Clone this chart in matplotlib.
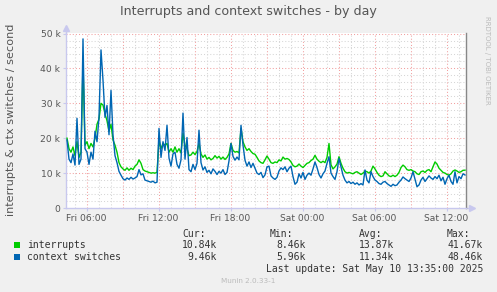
import matplotlib
matplotlib.use("Agg")
import matplotlib.pyplot as plt
import numpy as np

# ---------------- data (values in thousands per second) ----------------
start_hour = 4.375          # Fri 04:22:30 (hours since Fri 00:00)
step_hours = 1.0 / 6.0      # 10-minute samples

interrupts = [
    20.0, 17.0, 16.0, 17.5, 15.0, 19.0, 14.5, 16.0, 41.67, 18.0,
    19.0, 17.0, 18.5, 17.5, 20.0, 24.0, 25.5, 30.0, 29.5, 27.0,
    25.0, 22.0, 24.0, 19.5, 18.0, 16.0, 13.0, 11.8, 11.2, 10.8,
    11.5, 10.8, 11.4, 11.0, 12.0, 12.5, 13.8, 12.8, 11.0, 10.6,
    10.4, 10.2, 10.0, 10.1, 10.0, 10.2, 19.4, 17.0, 18.5, 18.0,
    18.5, 16.0, 17.0, 16.0, 17.5, 16.0, 17.0, 15.8, 21.4, 18.0,
    17.0, 15.0, 15.2, 16.0, 15.3, 16.2, 18.5, 15.5, 14.5, 15.2,
    14.0, 14.5, 13.8, 14.2, 15.0, 14.3, 14.8, 14.0, 14.6, 13.9,
    14.5, 15.5, 18.5, 16.5, 16.0, 16.2, 15.8, 22.8, 19.0, 17.5,
    16.5, 17.0, 16.2, 15.6, 15.4, 14.5, 13.5, 13.0, 12.8, 13.8,
    14.9, 14.0, 13.0, 12.8, 13.2, 13.0, 13.8, 13.5, 14.6, 14.0,
    14.2, 13.9, 13.2, 12.2, 11.8, 12.0, 12.6, 12.0, 11.6, 12.2,
    12.8, 13.0, 13.6, 14.0, 15.1, 14.0, 13.4, 13.0, 13.4, 13.0,
    14.5, 18.5, 12.4, 11.2, 11.8, 12.6, 14.7, 12.8, 11.4, 10.4,
    10.0, 10.2, 10.0, 9.8, 10.2, 10.4, 10.0, 9.6, 10.0, 10.6,
    10.4, 10.0, 10.6, 12.0, 11.2, 10.2, 9.4, 9.0, 9.2, 10.4,
    9.8, 9.2, 9.0, 9.4, 9.0, 9.4, 10.2, 11.6, 12.3, 11.8,
    11.0, 10.8, 11.0, 10.6, 10.4, 9.8, 9.6, 10.4, 10.6, 10.2,
    10.8, 11.0, 10.4, 11.8, 13.2, 12.6, 11.4, 10.8, 10.2, 10.0,
    9.6, 9.4, 9.8, 10.6, 10.9, 10.6, 10.2, 10.4, 10.8, 10.84,
]

context_switches = [
    19.5, 14.0, 13.0, 15.5, 12.3, 25.7, 12.5, 14.0, 48.46, 17.0,
    16.0, 12.5, 16.0, 14.0, 22.0, 19.0, 26.0, 45.3, 36.6, 26.0,
    29.4, 21.0, 33.7, 20.9, 15.0, 13.0, 10.5, 9.4, 8.4, 8.0,
    8.6, 8.2, 8.8, 8.3, 8.6, 9.0, 11.0, 9.5, 9.8, 8.0,
    7.8, 7.6, 7.4, 7.7, 7.2, 7.4, 22.8, 14.5, 19.0, 16.5,
    23.7, 14.3, 12.0, 15.5, 16.0, 12.5, 11.4, 13.8, 27.2, 14.0,
    20.2, 11.0, 10.4, 12.5, 11.0, 12.8, 22.3, 13.0, 10.9, 11.8,
    10.2, 10.8, 9.8, 11.2, 10.5, 9.6, 10.5, 10.0, 11.0, 9.6,
    10.2, 13.5, 18.5, 14.8, 13.7, 14.6, 13.8, 23.7, 18.0, 13.7,
    12.0, 13.2, 11.6, 12.8, 11.4, 10.0, 9.6, 10.2, 8.7, 9.5,
    11.8, 12.0, 9.2, 8.6, 8.2, 8.8, 10.6, 11.5, 11.0, 11.8,
    10.4, 11.4, 12.0, 9.0, 6.8, 7.4, 9.8, 8.6, 10.2, 8.2,
    9.4, 10.0, 9.4, 11.2, 13.2, 11.6, 9.6, 8.6, 9.8, 10.6,
    12.8, 14.7, 10.0, 9.0, 8.2, 10.4, 14.2, 11.8, 9.4, 8.0,
    7.2, 7.6, 7.0, 7.4, 6.8, 7.2, 6.6, 7.0, 6.6, 10.9,
    8.0, 7.2, 10.4, 9.0, 8.0, 7.6, 7.0, 6.8, 7.4, 7.6,
    7.0, 6.6, 6.2, 6.8, 6.4, 6.6, 7.4, 8.0, 8.9, 8.4,
    8.0, 7.6, 8.6, 10.4, 8.2, 6.1, 6.6, 8.0, 8.8, 7.6,
    8.4, 9.2, 8.6, 8.2, 9.0, 8.4, 9.4, 7.8, 8.8, 6.8,
    8.4, 9.4, 7.6, 6.8, 10.4, 7.2, 9.0, 8.4, 9.8, 9.46,
]

x_tick_hours = [6, 12, 18, 24, 30, 36]
x_tick_labels = ["Fri 06:00", "Fri 12:00", "Fri 18:00", "Sat 00:00", "Sat 06:00", "Sat 12:00"]
y_tick_values = [0, 10, 20, 30, 40, 50]
y_tick_labels = ["0", "10 k", "20 k", "30 k", "40 k", "50 k"]

series_names = ["interrupts", "context switches"]
series_colors = ["#00CC00", "#0066B3"]
cur_vals = ["10.84k", "9.46k"]
min_vals = ["8.46k", "5.96k"]
avg_vals = ["13.87k", "11.34k"]
max_vals = ["41.67k", "48.46k"]

# ---------------- figure ----------------
W, H = 497, 292
fig = plt.figure(figsize=(W / 100, H / 100), dpi=100, facecolor="#F0F0F0")

def fx(x):
    return x / W

def fy(y):
    return 1 - y / H

ax_left, ax_right, ax_top, ax_bottom = 66, 466, 33, 208
ax = fig.add_axes([fx(ax_left), fy(ax_bottom), (ax_right - ax_left) / W, (ax_bottom - ax_top) / H])
ax.set_facecolor("white")

hours = start_hour + step_hours * np.arange(len(interrupts))
xmin, xmax = 6 - 20.5 / 12, 6 - 20.5 / 12 + 400 / 12
ax.set_xlim(xmin, xmax)
ax.set_ylim(0, 50.15)

# grid
minor_c = "#D6D6D6"
major_c = "#F2A0A0"
for h in np.arange(5, 38, 1):
    if h % 3 != 0:
        ax.axvline(h, color=minor_c, lw=0.75, ls=(0, (1, 2)), zorder=1)
for v in np.arange(2, 50, 2):
    if v % 10 != 0:
        ax.axhline(v, color=minor_c, lw=0.75, ls=(0, (1, 2)), zorder=1)
for h in np.arange(6, 38, 3):
    ax.axvline(h, color=major_c, lw=0.75, ls=(0, (1, 2)), zorder=1.5)
for v in [10, 20, 30, 40, 50]:
    ax.axhline(v, color=major_c, lw=0.75, ls=(0, (1, 2)), zorder=1.5)

ax.plot(hours, interrupts, color=series_colors[0], lw=1.0, zorder=3)
ax.plot(hours, context_switches, color=series_colors[1], lw=1.0, zorder=4)

# spines
axis_c = "#C8C8EE"
ax.spines["top"].set_visible(False)
ax.spines["left"].set_color(axis_c)
ax.spines["bottom"].set_color(axis_c)
ax.spines["right"].set_color("#888888")
for s in ["left", "bottom", "right"]:
    ax.spines[s].set_linewidth(1.0)

# arrows
ax.plot([0], [1.03], marker="^", ms=5, color=axis_c, transform=ax.transAxes, clip_on=False)
ax.plot([1.015], [0], marker=">", ms=5, color=axis_c, transform=ax.transAxes, clip_on=False)
ax.plot([1.0, 1.015], [0, 0], color=axis_c, lw=1.0, transform=ax.transAxes, clip_on=False)
ax.plot([0, 0], [1.0, 1.03], color=axis_c, lw=1.0, transform=ax.transAxes, clip_on=False)

ax.set_xticks(x_tick_hours)
ax.set_xticklabels(x_tick_labels)
ax.set_yticks(y_tick_values)
ax.set_yticklabels(y_tick_labels)
ax.tick_params(axis="both", labelsize=6.6, colors=axis_c, labelcolor="#555555", length=2, width=0.8, pad=2)

# title and labels
fig.text(fx(248), fy(12), "Interrupts and context switches - by day", ha="center", va="center",
         fontsize=9.1, color="#555555")
fig.text(fx(11), fy(120), "interrupts & ctx switches / second", rotation=90, ha="center", va="center",
         fontsize=8.1, color="#555555")
fig.text(fx(487), fy(60), "RRDTOOL / TOBI OETIKER", rotation=270, ha="center", va="center",
         fontsize=5.0, color="#BBBBBB")

# legend
mono = "DejaVu Sans Mono"
fs = 7.0
tc = "#333333"
col_right = [217, 306, 394, 483]
headers = ["Cur:", "Min:", "Avg:", "Max:"]
header_left = [182, 270, 359, 447]
for hx, htxt in zip(header_left, headers):
    fig.text(fx(hx), fy(234), htxt, ha="left", va="center", family=mono, fontsize=fs, color=tc)
rows_y = [245, 257]
for i, name in enumerate(series_names):
    y = rows_y[i]
    fig.patches.append(plt.Rectangle((fx(14), fy(y + 3)), 6 / W, 6 / H, transform=fig.transFigure,
                                     facecolor=series_colors[i], edgecolor="none"))
    fig.text(fx(27), fy(y), name, ha="left", va="center", family=mono, fontsize=fs, color=tc)
    for cx, val in zip(col_right, [cur_vals[i], min_vals[i], avg_vals[i], max_vals[i]]):
        fig.text(fx(cx), fy(y), val, ha="right", va="center", family=mono, fontsize=fs, color=tc)
fig.text(fx(483), fy(269), "Last update: Sat May 10 13:35:00 2025", ha="right", va="center",
         family=mono, fontsize=fs, color=tc)
fig.text(fx(248), fy(281), "Munin 2.0.33-1", ha="center", va="center", fontsize=5.2, color="#BBBBBB")

fig.savefig("out.png", dpi=100, facecolor=fig.get_facecolor())
